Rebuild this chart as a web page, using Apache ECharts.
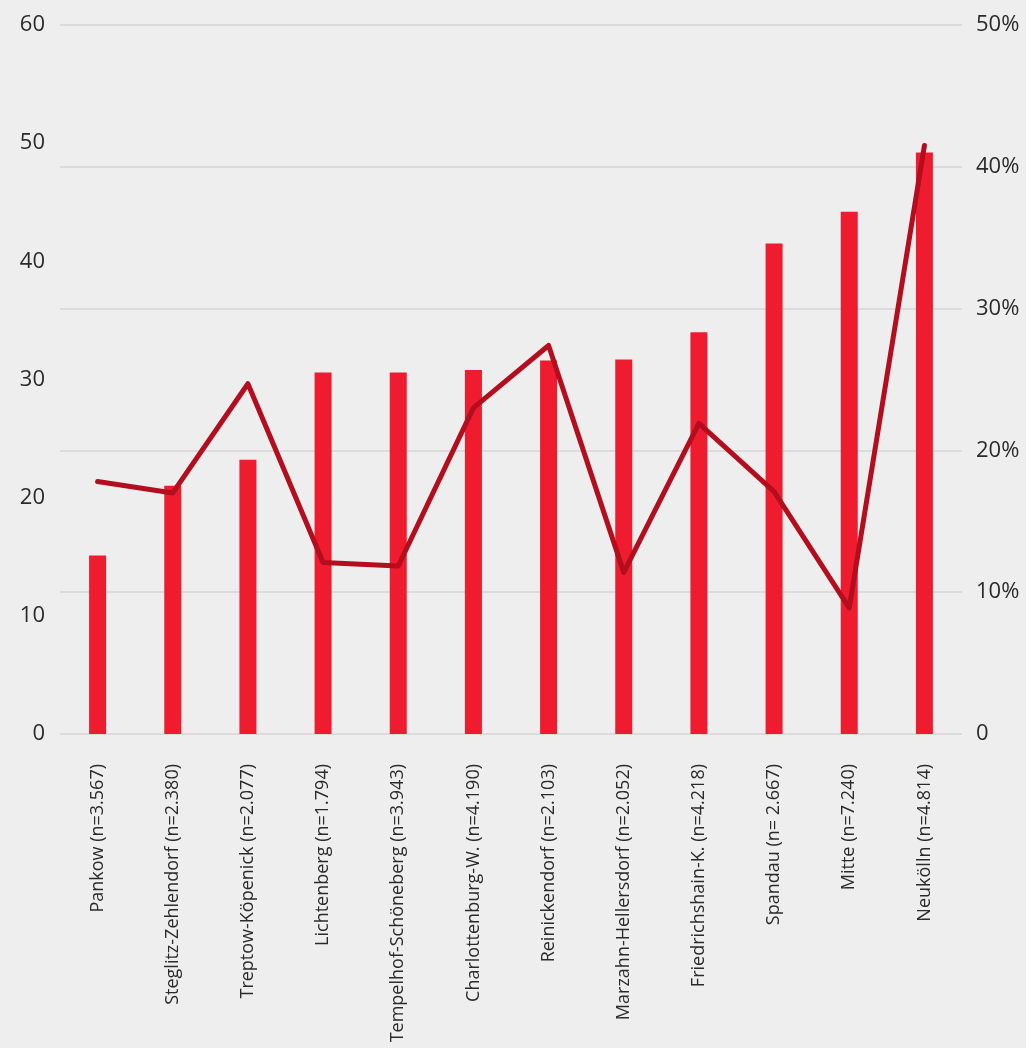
<!DOCTYPE html>
<html>
<head>
<meta charset="utf-8">
<style>
  html, body { margin: 0; padding: 0; background: #eeeeee; }
  #chart { width: 1026px; height: 1048px; }
</style>
<script src="https://cdn.jsdelivr.net/npm/echarts@6/dist/echarts.min.js"></script>
</head>
<body>
<div id="chart"></div>
<script>
// Berliner Bezirke mit Stichprobengröße
const districts = [
  'Pankow (n=3.567)',
  'Steglitz-Zehlendorf (n=2.380)',
  'Treptow-Köpenick (n=2.077)',
  'Lichtenberg (n=1.794)',
  'Tempelhof-Schöneberg (n=3.943)',
  'Charlottenburg-W. (n=4.190)',
  'Reinickendorf (n=2.103)',
  'Marzahn-Hellersdorf (n=2.052)',
  'Friedrichshain-K. (n=4.218)',
  'Spandau (n= 2.667)',
  'Mitte (n=7.240)',
  'Neukölln (n=4.814)'
];

// Balken (linke Achse)
const barValues = [15.1, 21.0, 23.2, 30.6, 30.6, 30.8, 31.6, 31.7, 34.0, 41.5, 44.2, 49.2];

// Linie in Prozent (rechte Achse)
const lineValues = [17.8, 17.0, 24.7, 12.1, 11.85, 23.0, 27.4, 11.4, 21.9, 17.1, 8.9, 41.5];

const leftTicks = { min: 0, max: 60, interval: 10 };
const rightTicks = { min: 0, max: 50, interval: 10 };

const FONT = '"Open Sans", sans-serif';
const chart = echarts.init(document.getElementById('chart'), null, { renderer: 'canvas' });

chart.setOption({
  backgroundColor: '#eeeeee',
  animation: false,
  grid: { left: 60, right: 64, top: 25, bottom: 314 },
  xAxis: {
    type: 'category',
    data: districts,
    axisLine: { show: false },
    axisTick: { show: false },
    axisLabel: {
      rotate: 90,
      interval: 0,
      margin: 30,
      color: '#2b2b2b',
      fontFamily: FONT,
      fontSize: 18
    }
  },
  yAxis: [
    {
      type: 'value',
      position: 'left',
      min: leftTicks.min,
      max: leftTicks.max,
      interval: leftTicks.interval,
      splitLine: { show: false },
      axisLine: { show: false },
      axisTick: { show: false },
      axisLabel: {
        margin: 15,
        color: '#2b2b2b',
        fontFamily: FONT,
        fontSize: 22
      }
    },
    {
      type: 'value',
      position: 'right',
      min: rightTicks.min,
      max: rightTicks.max,
      interval: rightTicks.interval,
      splitLine: { show: true, lineStyle: { color: '#d5d5d5', width: 1.5 } },
      axisLine: { show: false },
      axisTick: { show: false },
      axisLabel: {
        margin: 14,
        color: '#2b2b2b',
        fontFamily: FONT,
        fontSize: 22,
        formatter: v => (v === 0 ? '0' : v + '%')
      }
    }
  ],
  series: [
    {
      type: 'bar',
      yAxisIndex: 0,
      data: barValues,
      barWidth: 17,
      itemStyle: { color: '#ee1c2e' }
    },
    {
      type: 'line',
      yAxisIndex: 1,
      data: lineValues,
      symbol: 'none',
      lineStyle: { color: '#b30d1e', width: 5, cap: 'round', join: 'round' }
    }
  ]
});
</script>
</body>
</html>
